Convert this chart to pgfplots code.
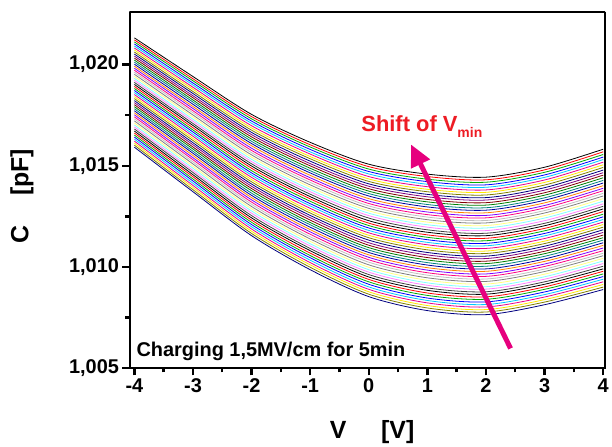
\documentclass[border=0pt]{standalone}
\usepackage{fontspec}
\setmainfont{Liberation Sans}
\usepackage{pgfplots}
\pgfplotsset{compat=1.18}
\usetikzlibrary{arrows.meta}
\definecolor{c1}{RGB}{0,0,0}
\definecolor{c2}{RGB}{255,0,0}
\definecolor{c3}{RGB}{0,170,0}
\definecolor{c4}{RGB}{0,0,255}
\definecolor{c5}{RGB}{0,200,255}
\definecolor{c6}{RGB}{230,0,140}
\definecolor{c7}{RGB}{255,230,0}
\definecolor{c8}{RGB}{128,128,0}
\definecolor{c9}{RGB}{0,0,128}
\definecolor{c10}{RGB}{128,0,128}
\definecolor{c11}{RGB}{128,0,0}
\definecolor{c12}{RGB}{0,128,0}
\definecolor{c13}{RGB}{0,128,128}
\definecolor{c14}{RGB}{0,0,160}
\definecolor{c15}{RGB}{255,128,0}
\definecolor{c16}{RGB}{128,0,255}
\definecolor{c17}{RGB}{255,0,128}
\definecolor{c18}{RGB}{192,192,192}
\definecolor{c19}{RGB}{128,128,128}
\definecolor{c20}{RGB}{255,255,128}
\definecolor{c21}{RGB}{128,255,255}
\definecolor{c22}{RGB}{255,128,255}
\definecolor{c23}{RGB}{64,64,64}
\definecolor{shiftred}{RGB}{237,28,36}
\definecolor{arrowpink}{RGB}{230,0,126}
\pgfplotscreateplotcyclelist{origin}{{c1},{c2},{c3},{c4},{c5},{c6},{c7},{c8},{c9},{c10},{c11},{c12},{c13},{c14},{c15},{c16},{c17},{c18},{c19},{c20},{c21},{c22},{c23}}
\newcommand\C[9]{\addplot coordinates {(-4,#1)(-3,#2)(-2,#3)(-1,#4)(0,#5)(1,#6)(2,#7)(3,#8)(4,#9)};}
\begin{document}
\begin{tikzpicture}
\begin{axis}[
  scale only axis, width=478pt, height=358pt,
  xmin=-4.085, xmax=4.035, ymin=1.005, ymax=1.0226,
  xtick={-4,-3,-2,-1,0,1,2,3,4}, ytick={1.005,1.010,1.015,1.020},
  minor x tick num=1, minor y tick num=1,
  tick pos=left, tick align=outside,
  major tick length=7pt, minor tick length=4pt,
  major tick style={line width=2.4pt, black},
  minor tick style={line width=2.4pt, black},
  ticklabel style={font=\fontsize{20}{24}\selectfont\bfseries},
  /pgf/number format/assume math mode=true,
  scaled y ticks=false,
  yticklabel style={/pgf/number format/.cd, fixed, fixed zerofill, precision=3, use comma},
  cycle list name=origin, no markers,
  every axis plot/.append style={smooth, line width=0.8pt},
  xlabel={V\hspace{35pt}[V]}, ylabel={C\hspace{30pt}[pF]},
  label style={font=\fontsize{25}{30}\selectfont\bfseries},
  xlabel style={at={(axis description cs:0.510,-0.179)}, anchor=center},
  ylabel style={at={(axis description cs:-0.226,0.483)}, anchor=center},
]
\C{1.02132}{1.01941}{1.01754}{1.01616}{1.01508}{1.01459}{1.01444}{1.01493}{1.01582}
\C{1.02122}{1.01930}{1.01743}{1.01604}{1.01496}{1.01447}{1.01431}{1.01480}{1.01569}
\C{1.02112}{1.01920}{1.01732}{1.01593}{1.01484}{1.01434}{1.01419}{1.01468}{1.01556}
\C{1.02102}{1.01909}{1.01721}{1.01581}{1.01472}{1.01422}{1.01406}{1.01455}{1.01543}
\C{1.02092}{1.01899}{1.01710}{1.01569}{1.01460}{1.01409}{1.01394}{1.01443}{1.01531}
\C{1.02082}{1.01888}{1.01698}{1.01558}{1.01447}{1.01397}{1.01381}{1.01430}{1.01518}
\C{1.02072}{1.01878}{1.01687}{1.01546}{1.01435}{1.01384}{1.01369}{1.01418}{1.01505}
\C{1.02062}{1.01867}{1.01676}{1.01535}{1.01423}{1.01372}{1.01356}{1.01405}{1.01492}
\C{1.02052}{1.01857}{1.01665}{1.01523}{1.01411}{1.01359}{1.01343}{1.01392}{1.01479}
\C{1.02042}{1.01846}{1.01654}{1.01511}{1.01399}{1.01347}{1.01331}{1.01380}{1.01466}
\C{1.02032}{1.01836}{1.01643}{1.01500}{1.01387}{1.01334}{1.01318}{1.01367}{1.01454}
\C{1.02022}{1.01825}{1.01632}{1.01488}{1.01375}{1.01322}{1.01306}{1.01355}{1.01441}
\C{1.02012}{1.01815}{1.01621}{1.01476}{1.01363}{1.01309}{1.01293}{1.01342}{1.01428}
\C{1.02002}{1.01804}{1.01610}{1.01465}{1.01351}{1.01297}{1.01281}{1.01330}{1.01415}
\C{1.01992}{1.01793}{1.01599}{1.01453}{1.01338}{1.01284}{1.01268}{1.01317}{1.01402}
\C{1.01982}{1.01783}{1.01587}{1.01441}{1.01326}{1.01272}{1.01255}{1.01304}{1.01389}
\C{1.01972}{1.01772}{1.01576}{1.01430}{1.01314}{1.01259}{1.01243}{1.01292}{1.01377}
\C{1.01962}{1.01762}{1.01565}{1.01418}{1.01302}{1.01247}{1.01230}{1.01279}{1.01364}
\C{1.01952}{1.01751}{1.01554}{1.01406}{1.01290}{1.01234}{1.01218}{1.01267}{1.01351}
\C{1.01942}{1.01741}{1.01543}{1.01395}{1.01278}{1.01222}{1.01205}{1.01254}{1.01338}
\C{1.01932}{1.01730}{1.01532}{1.01383}{1.01266}{1.01209}{1.01193}{1.01242}{1.01325}
\C{1.01922}{1.01720}{1.01521}{1.01372}{1.01254}{1.01197}{1.01180}{1.01229}{1.01312}
\C{1.01912}{1.01709}{1.01510}{1.01360}{1.01242}{1.01184}{1.01167}{1.01216}{1.01300}
\C{1.01902}{1.01699}{1.01499}{1.01348}{1.01229}{1.01172}{1.01155}{1.01204}{1.01287}
\C{1.01892}{1.01688}{1.01488}{1.01337}{1.01217}{1.01159}{1.01142}{1.01191}{1.01274}
\C{1.01882}{1.01677}{1.01476}{1.01325}{1.01205}{1.01147}{1.01130}{1.01179}{1.01261}
\C{1.01872}{1.01667}{1.01465}{1.01313}{1.01193}{1.01135}{1.01117}{1.01166}{1.01248}
\C{1.01862}{1.01656}{1.01454}{1.01302}{1.01181}{1.01122}{1.01105}{1.01154}{1.01235}
\C{1.01852}{1.01646}{1.01443}{1.01290}{1.01169}{1.01110}{1.01092}{1.01141}{1.01222}
\C{1.01842}{1.01635}{1.01432}{1.01278}{1.01157}{1.01097}{1.01079}{1.01128}{1.01210}
\C{1.01832}{1.01625}{1.01421}{1.01267}{1.01145}{1.01085}{1.01067}{1.01116}{1.01197}
\C{1.01822}{1.01614}{1.01410}{1.01255}{1.01133}{1.01072}{1.01054}{1.01103}{1.01184}
\C{1.01812}{1.01604}{1.01399}{1.01244}{1.01120}{1.01060}{1.01042}{1.01091}{1.01171}
\C{1.01802}{1.01593}{1.01388}{1.01232}{1.01108}{1.01047}{1.01029}{1.01078}{1.01158}
\C{1.01792}{1.01583}{1.01377}{1.01220}{1.01096}{1.01035}{1.01017}{1.01066}{1.01145}
\C{1.01782}{1.01572}{1.01365}{1.01209}{1.01084}{1.01022}{1.01004}{1.01053}{1.01133}
\C{1.01772}{1.01562}{1.01354}{1.01197}{1.01072}{1.01010}{1.00991}{1.01040}{1.01120}
\C{1.01762}{1.01551}{1.01343}{1.01185}{1.01060}{1.00997}{1.00979}{1.01028}{1.01107}
\C{1.01752}{1.01540}{1.01332}{1.01174}{1.01048}{1.00985}{1.00966}{1.01015}{1.01094}
\C{1.01742}{1.01530}{1.01321}{1.01162}{1.01036}{1.00972}{1.00954}{1.01003}{1.01081}
\C{1.01732}{1.01519}{1.01310}{1.01150}{1.01024}{1.00960}{1.00941}{1.00990}{1.01068}
\C{1.01722}{1.01509}{1.01299}{1.01139}{1.01011}{1.00947}{1.00929}{1.00978}{1.01056}
\C{1.01712}{1.01498}{1.01288}{1.01127}{1.00999}{1.00935}{1.00916}{1.00965}{1.01043}
\C{1.01702}{1.01488}{1.01277}{1.01115}{1.00987}{1.00922}{1.00903}{1.00952}{1.01030}
\C{1.01692}{1.01477}{1.01266}{1.01104}{1.00975}{1.00910}{1.00891}{1.00940}{1.01017}
\C{1.01682}{1.01467}{1.01254}{1.01092}{1.00963}{1.00897}{1.00878}{1.00927}{1.01004}
\C{1.01672}{1.01456}{1.01243}{1.01081}{1.00951}{1.00885}{1.00866}{1.00915}{1.00991}
\C{1.01662}{1.01446}{1.01232}{1.01069}{1.00939}{1.00872}{1.00853}{1.00902}{1.00979}
\C{1.01652}{1.01435}{1.01221}{1.01057}{1.00927}{1.00860}{1.00841}{1.00890}{1.00966}
\C{1.01642}{1.01425}{1.01210}{1.01046}{1.00915}{1.00847}{1.00828}{1.00877}{1.00953}
\C{1.01632}{1.01414}{1.01199}{1.01034}{1.00902}{1.00835}{1.00815}{1.00864}{1.00940}
\C{1.01622}{1.01403}{1.01188}{1.01022}{1.00890}{1.00823}{1.00803}{1.00852}{1.00927}
\C{1.01612}{1.01393}{1.01177}{1.01011}{1.00878}{1.00810}{1.00790}{1.00839}{1.00914}
\C{1.01602}{1.01382}{1.01166}{1.00999}{1.00866}{1.00798}{1.00778}{1.00827}{1.00901}
\C{1.01592}{1.01372}{1.01155}{1.00987}{1.00854}{1.00785}{1.00765}{1.00814}{1.00889}
\draw[line width=2.4pt, black] (rel axis cs:0,0) rectangle (rel axis cs:1,1);
\node[anchor=base west, inner sep=0pt, font=\fontsize{20}{24}\selectfont\bfseries] at (rel axis cs:0.0146,0.0335) {Charging 1,5MV/cm for 5min};
\node[anchor=base west, inner sep=0pt, text=shiftred, font=\fontsize{22}{26}\selectfont\bfseries] at (axis cs:-0.129,1.0167) {Shift of V\raisebox{-6pt}{\fontsize{14}{16}\selectfont min}};
\draw[arrowpink, line width=5pt, -{Triangle[length=22pt,width=20pt]}] (axis cs:2.42,1.00598) -- (axis cs:0.72,1.01606);
\end{axis}
\path ([shift={(-130pt,-76pt)}]current axis.south west) rectangle ([shift={(4pt,12pt)}]current axis.north east);
\end{tikzpicture}
\end{document}
